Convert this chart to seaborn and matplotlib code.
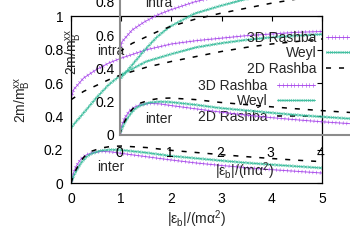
import matplotlib
matplotlib.use("Agg")
import matplotlib.pyplot as plt
from matplotlib import patheffects as pe
from matplotlib.ticker import FuncFormatter
import seaborn as sns
import pandas as pd

# ---------------- data ----------------
x_intra = [0, 0.05, 0.25, 0.5, 0.75, 1, 1.5, 2, 2.5, 3, 3.5, 4, 4.5, 5]
intra_3d = [0.5, 0.56, 0.63, 0.68, 0.72, 0.75, 0.80, 0.835, 0.855, 0.87, 0.885, 0.895, 0.905, 0.91]
intra_weyl = [0.33, 0.35, 0.42, 0.51, 0.59, 0.65, 0.73, 0.775, 0.815, 0.84, 0.86, 0.875, 0.885, 0.893]
intra_2d = [0.5, 0.51, 0.55, 0.585, 0.62, 0.65, 0.695, 0.73, 0.76, 0.79, 0.815, 0.835, 0.85, 0.865]

x_inter = [0, 0.05, 0.1, 0.2, 0.3, 0.4, 0.6, 0.8, 1, 1.5, 2, 2.5, 3, 3.5, 4, 4.5, 5]
inter_2d = [0, 0.045, 0.08, 0.135, 0.17, 0.19, 0.21, 0.22, 0.222, 0.213, 0.196, 0.183, 0.17, 0.158, 0.147, 0.137, 0.128]
inter_weyl = [0, 0.04, 0.07, 0.12, 0.155, 0.175, 0.195, 0.2, 0.198, 0.182, 0.162, 0.148, 0.134, 0.121, 0.11, 0.1, 0.09]
inter_3d = [0, 0.06, 0.1, 0.145, 0.168, 0.18, 0.19, 0.187, 0.178, 0.158, 0.138, 0.12, 0.105, 0.092, 0.08, 0.07, 0.06]

labels = ["3D Rashba", "Weyl", "2D Rashba"]
x_ticks = [0, 1, 2, 3, 4, 5]
y_ticks = [0, 0.2, 0.4, 0.6, 0.8, 1]

# ---------------- style ----------------
sns.set_style("white")
plt.rcParams["font.family"] = ["Liberation Sans", "DejaVu Sans"]
plt.rcParams["mathtext.fontset"] = "custom"
plt.rcParams["mathtext.rm"] = "Liberation Sans"
plt.rcParams["font.size"] = 10

PURPLE = "#a644ea"
TEAL = "#35bb9a"

def plus_fx():
    return [pe.Normal(),
            pe.TickedStroke(angle=90, spacing=2.6, length=0.45, linewidth=0.45),
            pe.TickedStroke(angle=-90, spacing=2.6, length=0.45, linewidth=0.45)]

def cross_fx():
    return [pe.Normal(),
            pe.TickedStroke(angle=45, spacing=2.6, length=0.5, linewidth=0.45),
            pe.TickedStroke(angle=-135, spacing=2.6, length=0.5, linewidth=0.45),
            pe.TickedStroke(angle=135, spacing=2.6, length=0.5, linewidth=0.45),
            pe.TickedStroke(angle=-45, spacing=2.6, length=0.5, linewidth=0.45)]

W, H = 350, 245
def rect(l, b, w, h):
    return [l / W, (H - b) / H, w / W, h / H]

fig = plt.figure(figsize=(3.5, 2.45), dpi=100)
ax_main = fig.add_axes(rect(71, 183, 251, 166.5))
ax_copy = fig.add_axes(rect(119.5, 135, 251, 166.5))

df_intra = pd.DataFrame({"x": x_intra, "r3": intra_3d, "w": intra_weyl, "r2": intra_2d})
df_inter = pd.DataFrame({"x": x_inter, "r3": inter_3d, "w": inter_weyl, "r2": inter_2d})

def draw(ax, spine_color, ytick_pad, xtick_pad, xlabpad, ylabpad):
    ax.set_facecolor("none")
    handles = []
    for i, df in enumerate([df_intra, df_inter]):
        sns.lineplot(data=df, x="x", y="r3", ax=ax, color=PURPLE, lw=0.7,
                     alpha=0.9, path_effects=plus_fx(), legend=False)
        l1 = ax.lines[-1]
        sns.lineplot(data=df, x="x", y="w", ax=ax, color=TEAL, lw=0.7,
                     alpha=0.9, path_effects=cross_fx(), legend=False)
        l2 = ax.lines[-1]
        sns.lineplot(data=df, x="x", y="r2", ax=ax, color="black", lw=1.1,
                     legend=False)
        l3 = ax.lines[-1]
        l3.set_dashes((3.3, 5.2))
        if i == 0:
            handles = [l1, l2, l3]
    ax.set_xlim(0, 5)
    ax.set_ylim(0, 1)
    ax.set_xticks(x_ticks)
    ax.set_yticks(y_ticks)
    ax.xaxis.set_major_formatter(FuncFormatter(lambda v, p: f"{v:g}"))
    ax.yaxis.set_major_formatter(FuncFormatter(lambda v, p: f"{v:g}"))
    ax.tick_params(direction="in", length=3.5, width=0.8, top=True, right=True,
                   colors=spine_color, labelcolor="black", labelsize=10)
    ax.tick_params(axis="y", pad=ytick_pad)
    ax.tick_params(axis="x", pad=xtick_pad)
    for s in ax.spines.values():
        s.set_color(spine_color)
        s.set_linewidth(0.9 if spine_color == "black" else 1.5)
    ax.set_xlabel(r"|ε$_\mathrm{b}$|/(mα$^2$)", labelpad=xlabpad)
    ax.set_ylabel(r"2m/m$_\mathrm{B}^\mathrm{xx}$", labelpad=ylabpad)
    ax.text(0.79, 0.79, "intra", ha="center", va="center", fontsize=10)
    ax.text(0.79, 0.096, "inter", ha="center", va="center", fontsize=10)
    ax.legend(handles, labels, loc="upper right", bbox_to_anchor=(0.972, 0.625),
              frameon=False, markerfirst=False, handlelength=2.7,
              handletextpad=0.7, labelspacing=0.1, borderpad=0,
              borderaxespad=0, fontsize=10)

draw(ax_main, "black", 5.5, 6.5, 2, 8)
draw(ax_copy, "#8c8c8c", 3.5, 8, 0, 8)

fig.savefig("out.png", dpi=100)
